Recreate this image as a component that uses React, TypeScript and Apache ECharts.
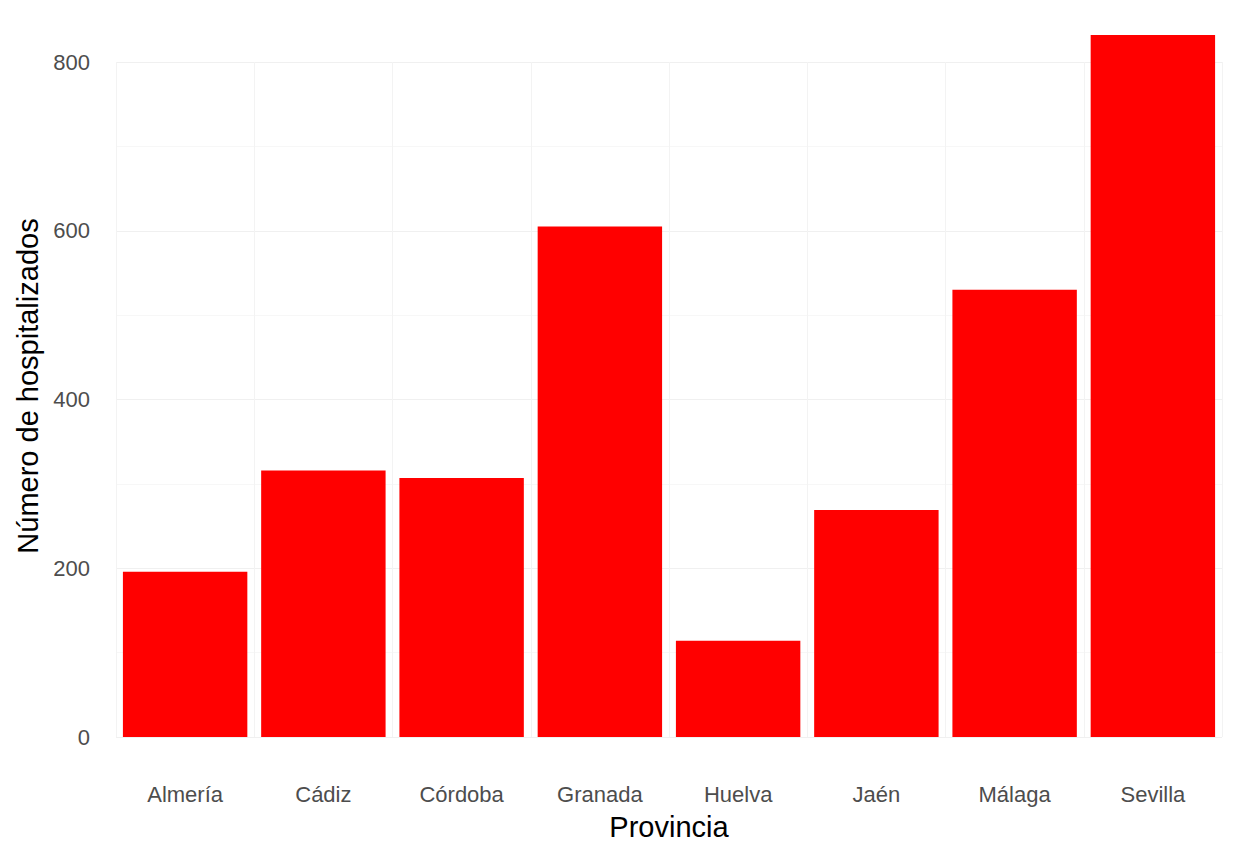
import React, { useEffect, useRef } from "react";
import * as echarts from "echarts";

const provincias = ["Almería", "Cádiz", "Córdoba", "Granada", "Huelva", "Jaén", "Málaga", "Sevilla"];
const hospitalizados = [196, 316, 307, 605, 114, 269, 530, 832];
const yTicks = { min: 0, max: 800, interval: 200 };
const yTitle = "Número de hospitalizados";
const xTitle = "Provincia";

export default function App() {
  const ref = useRef<HTMLDivElement>(null);
  useEffect(() => {
    if (!ref.current) return;
    const chart = echarts.init(ref.current, undefined, { renderer: "svg" });
    chart.setOption({
      animation: false,
      backgroundColor: "#ffffff",
      grid: { left: 116, right: 16, top: 62, bottom: 104, containLabel: false },
      graphic: [
        {
          type: "text",
          x: 28,
          y: 386,
          rotation: Math.PI / 2,
          style: {
            text: yTitle,
            fontFamily: "Liberation Sans",
            fontSize: 29,
            fill: "#000000",
            align: "center",
            verticalAlign: "middle",
          },
        },
      ],
      xAxis: {
        type: "category",
        data: provincias,
        name: xTitle,
        nameLocation: "middle",
        nameGap: 75,
        nameTextStyle: { fontFamily: "Liberation Sans", fontSize: 29, color: "#000000" },
        axisLine: { show: false },
        axisTick: { show: false },
        axisLabel: { margin: 46, fontFamily: "Liberation Sans", fontSize: 22, color: "#4d4d4d" },
        splitLine: { show: true, lineStyle: { color: "#f3f3f3", width: 1 } },
      },
      yAxis: {
        type: "value",
        min: yTicks.min,
        max: yTicks.max,
        interval: yTicks.interval,
        axisLine: { show: false },
        axisTick: { show: false },
        axisLabel: { margin: 26, fontFamily: "Liberation Sans", fontSize: 22, color: "#4d4d4d" },
        splitLine: { show: true, lineStyle: { color: "#f0f0f0", width: 1 } },
        minorTick: { show: false, splitNumber: 2 },
        minorSplitLine: { show: true, lineStyle: { color: "#f7f7f7", width: 1 } },
      },
      series: [
        {
          type: "bar",
          data: hospitalizados,
          barCategoryGap: "10%",
          clip: false,
          itemStyle: { color: "#ff0000" },
        },
      ],
    });
    return () => chart.dispose();
  }, []);
  return (
    <div
      ref={ref}
      style={{ position: "fixed", left: 0, top: 0, width: 1238, height: 846 }}
    />
  );
}
